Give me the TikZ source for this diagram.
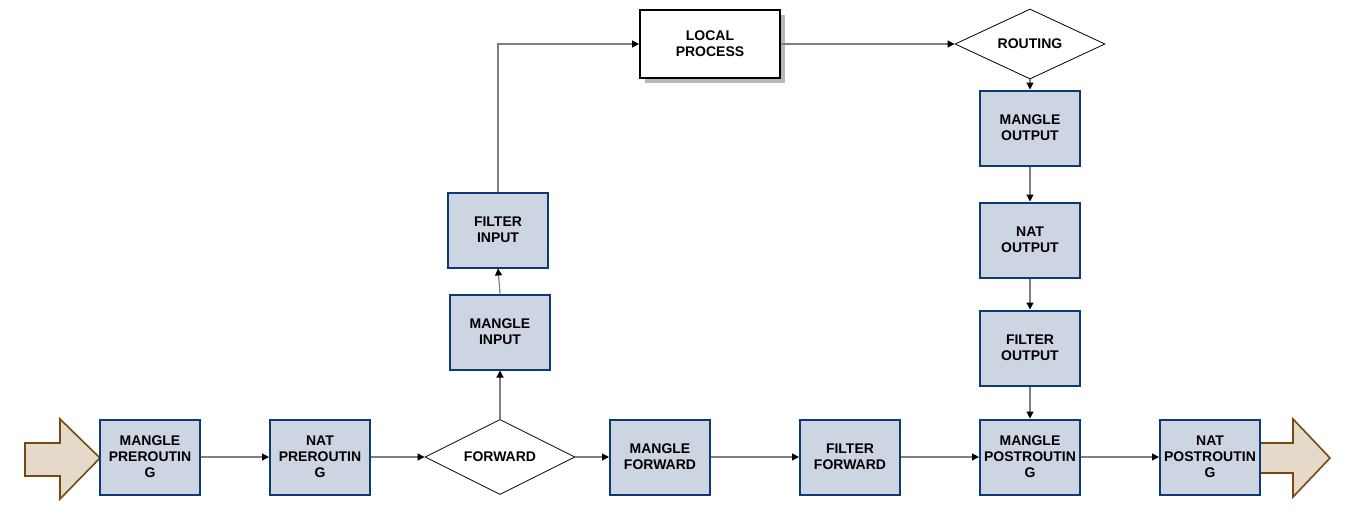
\documentclass[tikz,border=0pt]{standalone}
\usepackage{fontspec}
\setmainfont{Liberation Sans}
\usetikzlibrary{arrows.meta,shapes.geometric,calc}
\definecolor{boxfill}{HTML}{CED5E2}
\definecolor{boxline}{HTML}{0D3A73}
\definecolor{arrfill}{HTML}{E5D9C9}
\definecolor{arrline}{HTML}{774811}
\definecolor{conn}{HTML}{7F7F7F}
\begin{document}
\begin{tikzpicture}[x=1pt,y=-1pt,
  lowtext/.style={execute at begin node={\rule{0pt}{16pt}}},
  chain/.style={draw=boxline,line width=2pt,fill=boxfill,minimum width=100pt,minimum height=75pt,
    inner sep=0pt,align=center,font=\fontsize{14}{16}\selectfont\bfseries,lowtext},
  decide/.style={draw=black,line width=0.8pt,fill=white,diamond,aspect=2,minimum width=150pt,minimum height=75pt,
    inner sep=0pt,align=center,font=\fontsize{14}{16}\selectfont\bfseries},
  proc/.style={draw=black,line width=2pt,fill=white,minimum width=140pt,minimum height=68pt,
    align=center,font=\fontsize{14}{16}\selectfont\bfseries,lowtext},
  flow/.style={draw=conn,line width=1.2pt,-{Triangle[length=7pt,width=7pt,fill=black,color=black]}},
  bigarrow/.style={draw=arrline,line width=1.6pt,fill=arrfill}]
\useasboundingbox (0,0) rectangle (1350,520);
% block arrows
\draw[bigarrow] (25,443) -- (60,443) -- (60,419) -- (100,458) -- (60,499) -- (60,476) -- (25,476) -- cycle;
\draw[bigarrow] (1260,443) -- (1293,443) -- (1293,419) -- (1330,458) -- (1293,497) -- (1293,473) -- (1260,473) -- cycle;
% bottom row
\node[chain] (mpre) at (150,457) {MANGLE\\PREROUTIN\\G};
\node[chain] (npre) at (320,457) {NAT\\PREROUTIN\\G};
\node[decide] (fwd) at (500,457) {FORWARD};
\node[chain] (mfwd) at (660,457) {MANGLE\\FORWARD};
\node[chain] (ffwd) at (850,457) {FILTER\\FORWARD};
\node[chain] (mpost) at (1030,457) {MANGLE\\POSTROUTIN\\G};
\node[chain] (npost) at (1210,457) {NAT\\POSTROUTIN\\G};
% input column
\node[chain] (min) at (500,332) {MANGLE\\INPUT};
\node[chain] (fin) at (498,230) {FILTER\\INPUT};
% local process
\fill[black!28] (645,15) rectangle (785,83);
\node[proc] (lp) at (710,44) {LOCAL\\PROCESS};
\node[decide,minimum height=70pt] (rt) at (1030,44) {ROUTING};
% output column
\node[chain] (mout) at (1030,128) {MANGLE\\OUTPUT};
\node[chain] (nout) at (1030,240) {NAT\\OUTPUT};
\node[chain] (fout) at (1030,348) {FILTER\\OUTPUT};
% connectors
\draw[flow] (mpre) -- (npre);
\draw[flow] (npre) -- (fwd);
\draw[flow] (fwd) -- (mfwd);
\draw[flow] (mfwd) -- (ffwd);
\draw[flow] (ffwd) -- (mpost);
\draw[flow] (mpost) -- (npost);
\draw[flow] (fwd.north) -- (min.south);
\draw[flow] (min.north) -- (fin.south);
\draw[flow] (fin.north) |- (lp.west);
\draw[flow] (lp.east) -- (rt.west);
\draw[flow] (rt.south) -- (mout.north);
\draw[flow] (mout) -- (nout);
\draw[flow] (nout) -- (fout);
\draw[flow] (fout) -- (mpost);
\end{tikzpicture}
\end{document}
